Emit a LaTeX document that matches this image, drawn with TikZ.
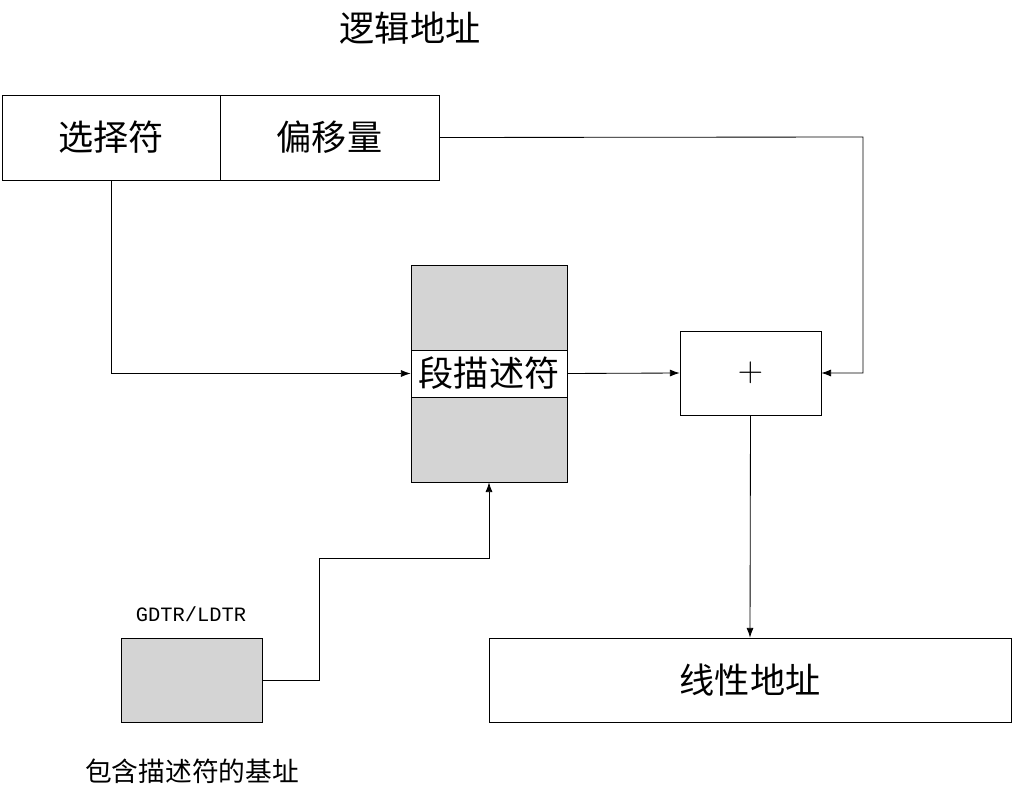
\documentclass[tikz,border=0pt]{standalone}
\usepackage{fontspec}
\setmainfont{Liberation Serif}
\setmonofont{Liberation Mono}
\newfontfamily\cjk{Noto Sans CJK SC}
\usetikzlibrary{positioning,arrows.meta}
\tikzset{
  blk/.style={draw, inner sep=0pt, font=\cjk\fontsize{25}{28}\selectfont},
  gray/.style={blk, fill=black!17},
  lbl/.style={font=\cjk\fontsize{25}{28}\selectfont},
  link/.style={-{Latex[length=7pt,width=5pt]}, semithick}
}
\begin{document}
\begin{tikzpicture}[x=0.025cm, y=-0.025cm]
\useasboundingbox (0,0) rectangle (1013,801);
\node[lbl] (title) at (410,28) {逻辑地址};
\node[blk, minimum width=218*0.025cm, minimum height=85*0.025cm] (sel) at (111,137.5) {选择符};
\node[blk, minimum width=219*0.025cm, minimum height=85*0.025cm] (off) at (329.5,137.5) {偏移量};
\node[gray, minimum width=156*0.025cm, minimum height=217*0.025cm] (desc) at (489,373.5) {};
\node[blk, fill=white, minimum width=156*0.025cm, minimum height=47*0.025cm] (band) at (489,373.5) {段描述符};
\node[blk, minimum width=141*0.025cm, minimum height=84*0.025cm] (plus) at (750.5,373) {$+$};
\node[blk, minimum width=522*0.025cm, minimum height=84*0.025cm] (lin) at (750,680) {线性地址};
\node[gray, minimum width=141*0.025cm, minimum height=84*0.025cm] (gdtr) at (191.5,680) {};
\node[font=\ttfamily\fontsize{14.5}{17}\selectfont] (gname) at (191,614) {GDTR/LDTR};
\node[lbl, font=\cjk\fontsize{19}{22}\selectfont] (gnote) at (192,771) {包含描述符的基址};
\coordinate (c1) at (863,137);
\coordinate (c2) at (319,558);
\draw[link] (sel.south) |- (band.west);
\draw[link] (off.east) -- (c1) |- (plus.east);
\draw[link] (band.east) -- (plus.west);
\draw[link] (plus.south) -- (lin.north);
\draw[link] (gdtr.east) -| (c2) -| (desc.south);
\end{tikzpicture}
\end{document}
